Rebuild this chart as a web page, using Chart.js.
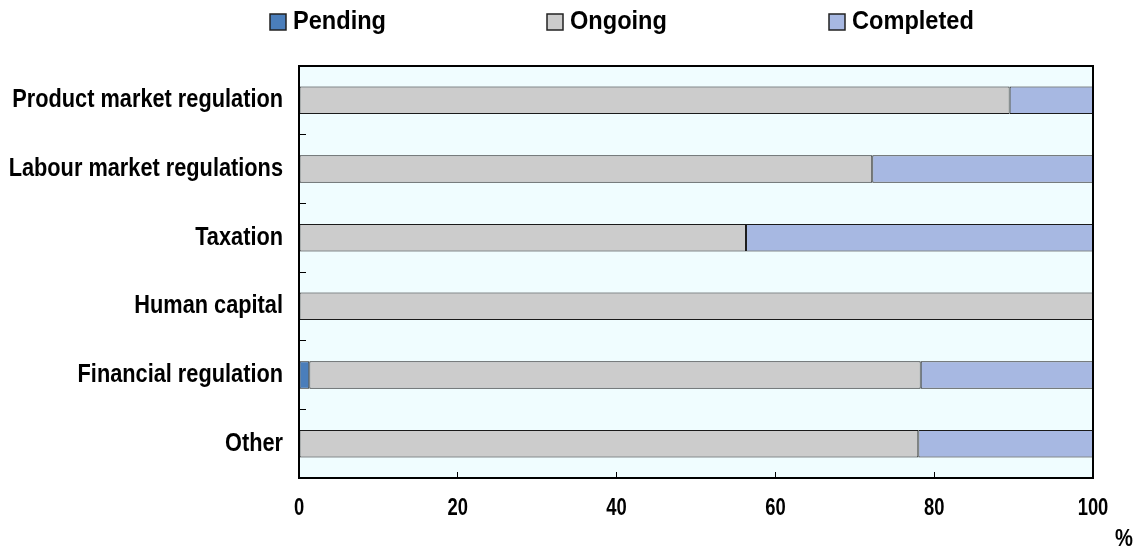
<!DOCTYPE html>
<html><head><meta charset="utf-8">
<script src="https://cdn.jsdelivr.net/npm/chart.js@4"></script>
<style>html,body{margin:0;padding:0;background:#fff}#wrap{width:1138px;height:554px;position:relative}</style>
</head><body><div id="wrap"><canvas id="c" width="1138" height="554"></canvas></div>
<script>
const categories = ["Product market regulation","Labour market regulations","Taxation","Human capital","Financial regulation","Other"];
const seriesNames = ["Pending","Ongoing","Completed"];
const pending = [null,null,null,null,1.3,null];
const ongoing = [89.5,72.2,56.3,100,77.0,78.0];
const completed = [10.5,27.8,43.7,null,21.7,22.0];
const xTicks = [0,20,40,60,80,100];
const unitLabel = "%";

const FONT = '"Liberation Sans Narrow","Arial Narrow","Liberation Sans",Arial,sans-serif';
const colors = ["#4A7EBB","#CCCCCC","#A7B8E2"];
const BG = "#F0FDFF";

// condensed bold text (narrow face is not installed, so compress horizontally)
function condText(ctx, text, x, y, size, sx, align){
  ctx.save();
  ctx.font = 'bold ' + size + 'px ' + FONT;
  ctx.textBaseline = 'middle'; ctx.textAlign = align; ctx.fillStyle = '#000';
  ctx.translate(x, y); ctx.scale(sx, 1);
  ctx.fillText(text, 0, 0);
  ctx.restore();
}

const framePlugin = {
  id: 'frame',
  beforeDraw(chart){
    const {ctx, chartArea:a} = chart;
    ctx.save(); ctx.fillStyle = BG; ctx.fillRect(a.left, a.top, a.right-a.left, a.bottom-a.top); ctx.restore();
  },
  afterDraw(chart){
    const {ctx, chartArea:a} = chart;
    const xs = chart.scales.x, ys = chart.scales.y;
    ctx.save();
    ctx.strokeStyle = '#000'; ctx.lineWidth = 2;
    ctx.strokeRect(a.left, a.top, a.right-a.left, a.bottom-a.top);
    ctx.restore();
    // category labels
    ys.ticks.forEach((t, i) => {
      condText(ctx, String(chart.data.labels[t.value]), a.left - 16, ys.getPixelForTick(i), 25, 0.87, 'right');
    });
    // value tick labels
    xs.ticks.forEach((t, i) => {
      condText(ctx, String(t.value), xs.getPixelForTick(i), 508.5, 23, 0.8, 'center');
    });
    // legend
    const boxX = [270, 547, 829];
    chart.data.datasets.forEach((ds,i)=>{
      const x = boxX[i];
      ctx.save();
      ctx.fillStyle = ds.backgroundColor; ctx.fillRect(x, 14, 16, 16);
      ctx.lineWidth = 1.5; ctx.strokeStyle = '#222'; ctx.strokeRect(x, 14, 16, 16);
      ctx.restore();
      condText(ctx, ds.label, x + 23, 21.5, 26.5, 0.89, 'left');
    });
    // unit
    condText(ctx, unitLabel, a.right + 31, 539.5, 24, 0.84, 'center');
  }
};

const mk = (i, data) => ({label: seriesNames[i], data, backgroundColor: colors[i], borderColor: '#1a1a1a', borderWidth: 1, borderSkipped: false, barPercentage: 0.4, categoryPercentage: 1});

new Chart(document.getElementById('c'), {
  type: 'bar',
  data: { labels: categories, datasets: [mk(0,pending), mk(1,ongoing), mk(2,completed)] },
  options: {
    indexAxis: 'y', responsive: false, animation: false, devicePixelRatio: 1,
    layout: { padding: { top: 66, right: 45, bottom: 0, left: 0 } },
    plugins: { legend: { display: false }, tooltip: { enabled: false } },
    scales: {
      x: {
        stacked: true, min: 0, max: 100,
        afterBuildTicks: s => { s.ticks = xTicks.map(v => ({value: v})); },
        ticks: { color: 'rgba(0,0,0,0)', font: { family: FONT, size: 23, weight: 'bold' }, padding: 22, maxRotation: 0 },
        grid: { drawOnChartArea: false, drawTicks: true, tickLength: -6, color: '#000', lineWidth: 1 },
        border: { display: false },
        afterFit: s => { s.height = 76; }
      },
      y: {
        stacked: true,
        ticks: { color: 'rgba(0,0,0,0)', font: { family: FONT, size: 25, weight: 'bold' }, padding: 23 },
        grid: { offset: true, drawOnChartArea: false, drawTicks: true, tickLength: -7, color: '#000', lineWidth: 1 },
        border: { display: false },
        afterFit: s => { s.width = 299; }
      }
    }
  },
  plugins: [framePlugin]
});
</script></body></html>
